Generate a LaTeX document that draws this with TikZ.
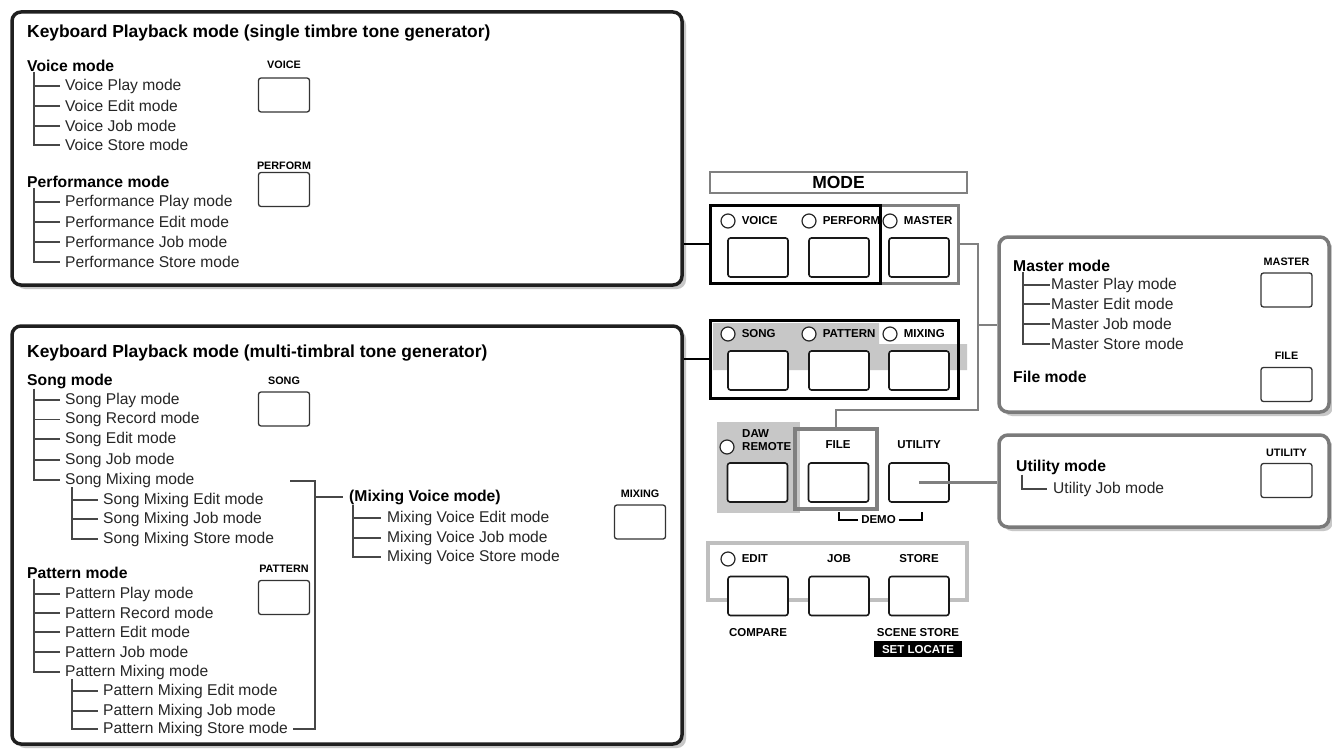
\documentclass[tikz,border=0pt]{standalone}
\usepackage{fontspec}
\setmainfont{Liberation Sans}
\usetikzlibrary{positioning,shadows}
\tikzset{bigbox/.style={draw=black!88,line width=3.5pt,rounded corners=9pt,fill=white,inner sep=0pt,
   drop shadow={shadow xshift=4pt,shadow yshift=-4pt,fill=black!22,opacity=1}},
 sidebox/.style={bigbox,draw=black!52},
 ttl/.style={anchor=west,inner sep=0pt,font=\fontsize{17.4}{20}\selectfont\bfseries},
 head/.style={anchor=west,inner sep=0pt,font=\fontsize{15.7}{18}\selectfont\bfseries},
 item/.style={anchor=west,inner sep=0pt,text=black!85,font=\fontsize{15.6}{18}\selectfont},
 treeline/.style={draw=black!72,line width=1.2pt},
 keybtn/.style={draw=black!80,line width=1.3pt,rounded corners=2.5pt,fill=white,minimum width=51pt,minimum height=34pt,inner sep=0pt},
 pad/.style={keybtn,draw=black!90,line width=1.6pt,minimum width=60pt,minimum height=39pt},
 keylbl/.style={inner sep=0pt,font=\fontsize{10.8}{12}\selectfont\bfseries},
 panlbl/.style={inner sep=0pt,font=\fontsize{11.5}{13.5}\selectfont\bfseries},
 led/.style={circle,draw=black!85,line width=1.2pt,fill=white,minimum size=14pt,inner sep=0pt},
 grp/.style={draw,line width=3pt,inner sep=0pt},
 link/.style={line width=2.6pt,draw=black},
 glink/.style={line width=2.6pt,draw=black!50}}

\begin{document}
\begin{tikzpicture}[x=1pt,y=-1pt]
\useasboundingbox[fill=white] (0,0) rectangle (1332,749);

% single timbre
\node[bigbox,minimum width=670,minimum height=273] (kbs) at (347,148.5) {};
\node[ttl] (ts) at (27,33) {Keyboard Playback mode (single timbre tone generator)};
\node[head] (vm) at (27,66) {Voice mode};
\node[item] (vp) at (65,86) {Voice Play mode};
\node[item] (ve) at (65,106) {Voice Edit mode};
\node[item] (vj) at (65,126) {Voice Job mode};
\node[item] (vs) at (65,145) {Voice Store mode};
\node[head] (pm) at (27,182) {Performance mode};
\node[item] (pp) at (65,202) {Performance Play mode};
\node[item] (pe) at (65,222) {Performance Edit mode};
\node[item] (pj) at (65,242) {Performance Job mode};
\node[item] (ps) at (65,262) {Performance Store mode};
\draw[treeline] ([xshift=7pt]vm.south west) coordinate (v0) |- ([xshift=-5pt]vs.west)
  (v0 |- vp) -- ([xshift=-5pt]vp.west) (v0 |- ve) -- ([xshift=-5pt]ve.west) (v0 |- vj) -- ([xshift=-5pt]vj.west);
\draw[treeline] ([xshift=7pt]pm.south west) coordinate (p0) |- ([xshift=-5pt]ps.west)
  (p0 |- pp) -- ([xshift=-5pt]pp.west) (p0 |- pe) -- ([xshift=-5pt]pe.west) (p0 |- pj) -- ([xshift=-5pt]pj.west);
\node[keybtn] (kvoice) at (284,95) {};
\node[keylbl,above=9pt of kvoice] (lvoice) {VOICE};
\node[keybtn] (kperf) at (284,189.5) {};
\node[keylbl,above=2pt of kperf] (lperf) {PERFORM};

% multi timbral
\node[bigbox,minimum width=670,minimum height=418] (kbm) at (347,535) {};
\node[ttl] (tm) at (27,353) {Keyboard Playback mode (multi-timbral tone generator)};
\node[head] (sm) at (27,381) {Song mode};
\node[item] (sp) at (65,400) {Song Play mode};
\node[item] (sr) at (65,419.5) {Song Record mode};
\node[item] (se) at (65,439) {Song Edit mode};
\node[item] (sj) at (65,460) {Song Job mode};
\node[item] (smx) at (65,480) {Song Mixing mode};
\node[item] (sme) at (103,500) {Song Mixing Edit mode};
\node[item] (smj) at (103,519) {Song Mixing Job mode};
\node[item] (sms) at (103,539) {Song Mixing Store mode};
\draw[treeline] ([xshift=7pt]sm.south west) coordinate (s0) |- ([xshift=-5pt]smx.west)
  (s0 |- sp) -- ([xshift=-5pt]sp.west) (s0 |- sr) -- ([xshift=-5pt]sr.west)
  (s0 |- se) -- ([xshift=-5pt]se.west) (s0 |- sj) -- ([xshift=-5pt]sj.west);
\draw[treeline] ([xshift=7pt]smx.south west) coordinate (s1) |- ([xshift=-5pt]sms.west)
  (s1 |- sme) -- ([xshift=-5pt]sme.west) (s1 |- smj) -- ([xshift=-5pt]smj.west);
\node[head] (ptm) at (27,573) {Pattern mode};
\node[item] (pap) at (65,594) {Pattern Play mode};
\node[item] (par) at (65,613) {Pattern Record mode};
\node[item] (pae) at (65,632) {Pattern Edit mode};
\node[item] (paj) at (65,652) {Pattern Job mode};
\node[item] (pamx) at (65,672) {Pattern Mixing mode};
\node[item] (pame) at (103,691) {Pattern Mixing Edit mode};
\node[item] (pamj) at (103,711) {Pattern Mixing Job mode};
\node[item] (pams) at (103,729) {Pattern Mixing Store mode};
\draw[treeline] ([xshift=7pt]ptm.south west) coordinate (t0) |- ([xshift=-5pt]pamx.west)
  (t0 |- pap) -- ([xshift=-5pt]pap.west) (t0 |- par) -- ([xshift=-5pt]par.west)
  (t0 |- pae) -- ([xshift=-5pt]pae.west) (t0 |- paj) -- ([xshift=-5pt]paj.west);
\draw[treeline] ([xshift=7pt]pamx.south west) coordinate (t1) |- ([xshift=-5pt]pams.west)
  (t1 |- pame) -- ([xshift=-5pt]pame.west) (t1 |- pamj) -- ([xshift=-5pt]pamj.west);
\node[keybtn] (ksong) at (284,409) {};
\node[keylbl,above=7pt of ksong] (lsong) {SONG};
\node[keybtn] (kpat) at (284,597.5) {};
\node[keylbl,above=7pt of kpat] (lpat) {PATTERN};
% mixing voice
\node[head] (mv) at (349,497) {(Mixing Voice mode)};
\node[item] (mve) at (387,518) {Mixing Voice Edit mode};
\node[item] (mvj) at (387,538) {Mixing Voice Job mode};
\node[item] (mvs) at (387,557) {Mixing Voice Store mode};
\draw[treeline] ([xshift=4pt]mv.south west) coordinate (m0) |- ([xshift=-6pt]mvs.west)
  (m0 |- mve) -- ([xshift=-6pt]mve.west) (m0 |- mvj) -- ([xshift=-6pt]mvj.west);
\coordinate (bt) at (290,481);
\draw[treeline] (bt) -- ++(25,0) coordinate (br) |- ([xshift=5pt]pams.east);
\draw[treeline] (br |- mv) -- ([xshift=-6pt]mv.west);
\node[keybtn] (kmix) at (640,522) {};
\node[keylbl,above=7pt of kmix] (lmix) {MIXING};

% right boxes
\node[sidebox,minimum width=330,minimum height=175] (mbox) at (1164,324.5) {};
\node[head] (mm) at (1013,266) {Master mode};
\node[item] (mp) at (1051,285) {Master Play mode};
\node[item] (me) at (1051,304) {Master Edit mode};
\node[item] (mj) at (1051,324) {Master Job mode};
\node[item] (ms) at (1051,344) {Master Store mode};
\draw[treeline] ([xshift=10pt]mm.south west) coordinate (r0) |- ([xshift=-1pt]ms.west)
  (r0 |- mp) -- ([xshift=-1pt]mp.west) (r0 |- me) -- ([xshift=-1pt]me.west) (r0 |- mj) -- ([xshift=-1pt]mj.west);
\node[head] (fm) at (1013,377) {File mode};
\node[keybtn] (kmaster) at (1286.5,290) {};
\node[keylbl,above=7pt of kmaster] (lmaster) {MASTER};
\node[keybtn] (kfile) at (1286.5,384.5) {};
\node[keylbl,above=7pt of kfile] (lfile) {FILE};

\node[sidebox,minimum width=330,minimum height=92] (ubox) at (1164,481) {};
\node[head] (um) at (1016,467) {Utility mode};
\node[item] (uj) at (1053,489) {Utility Job mode};
\draw[treeline] ([xshift=6pt]um.south west) |- ([xshift=-6pt]uj.west);
\node[keybtn] (kutil) at (1286.5,480.5) {};
\node[keylbl,above=6pt of kutil] (lutil) {UTILITY};

% mode panel
\node[draw=black!50,line width=1.8pt,minimum width=257,minimum height=21,inner sep=0pt,
  font=\fontsize{17.5}{20}\selectfont\bfseries] (mode) at (838.5,182.5) {MODE};
\node[grp,draw=black!50,minimum width=78,minimum height=78] (mgrp) at (919,244) {};
\node[grp,draw=black,minimum width=170,minimum height=78] (vgrp) at (795,244) {};
\node[led] (lv) at (728,221) {};
\node[panlbl,right=6pt of lv] (pv) {VOICE};
\node[led] (lp) at (809,221) {};
\node[panlbl,right=6pt of lp] (pp2) {PERFORM};
\node[led] (lm) at (890,221) {};
\node[panlbl,right=6pt of lm] (pm2) {MASTER};
\node[pad] (bvoice) at (758,257.5) {};
\node[pad] (bperf) at (839,257.5) {};
\node[pad] (bmaster) at (919,257.5) {};

\fill[black!22] (713,323) -- (879,323) -- (879,344) -- (967,344) -- (967,370) -- (713,370) -- cycle;
\node[grp,draw=black,minimum width=248,minimum height=78] (sgrp) at (834,359) {};
\node[led] (ls) at (728,334) {};
\node[panlbl,right=6pt of ls] (ps2) {SONG};
\node[led] (lt) at (809,334) {};
\node[panlbl,right=6pt of lt] (pt2) {PATTERN};
\node[led] (lx) at (890,334) {};
\node[panlbl,right=6pt of lx] (px2) {MIXING};
\node[pad] (bsong) at (758,370.5) {};
\node[pad] (bpat) at (839,370.5) {};
\node[pad] (bmix) at (919,370.5) {};

\node[fill=black!22,minimum width=83,minimum height=91,inner sep=0pt] (daw) at (758.5,467.5) {};
\coordinate (jn) at (978,325);
\coordinate (jd) at (978,410);
\node[grp,draw=black!50,line width=3.5pt,minimum width=82,minimum height=80] (fgrp) at (836,469) {};
\draw[glink] (mgrp.east) -| (jn) -- (jn -| mbox.west);
\draw[glink] (jn) -- (jd) -| (fgrp.north);
\node[led] (ld) at (727,447) {};
\node[panlbl,anchor=west,align=left] (pd) at (742,440) {DAW\\REMOTE};
\node[panlbl] (pf) at (838,445) {FILE};
\node[panlbl] (pu) at (919,445) {UTILITY};
\node[pad] (bdaw) at (757.5,482.5) {};
\node[pad] (bfile) at (838.5,482.5) {};
\node[pad] (butil) at (919,482.5) {};
\draw[glink] (butil.center) -- (butil.center -| ubox.west);
\node[panlbl] (demo) at (878.5,520) {DEMO};
\coordinate (dl) at (839,512);
\coordinate (dr) at (922,512);
\draw[line width=1.6pt] ([xshift=-3pt]demo.west) -| (dl);
\draw[line width=1.6pt] ([xshift=3pt]demo.east) -| (dr);

\node[grp,draw=black!25,line width=3.5pt,minimum width=259,minimum height=57] (egrp) at (837.5,571.5) {};
\node[led] (le) at (728,559) {};
\node[panlbl,right=6pt of le] (pe2) {EDIT};
\node[panlbl] (pj2) at (839,559) {JOB};
\node[panlbl] (pst) at (919,559) {STORE};
\node[pad] (bedit) at (758,596) {};
\node[pad] (bjob) at (839,596) {};
\node[pad] (bstore) at (919,596) {};
\node[panlbl] (pcmp) at (758,633) {COMPARE};
\node[panlbl] (pscn) at (918,633) {SCENE STORE};
\node[panlbl,fill=black,text=white,minimum width=88,minimum height=16,below=4pt of pscn] (pset) {SET LOCATE};

\draw[link] (vgrp.west -| kbs.east) -- (vgrp.west);
\draw[link] (sgrp.west -| kbm.east) -- (sgrp.west);
\end{tikzpicture}
\end{document}
